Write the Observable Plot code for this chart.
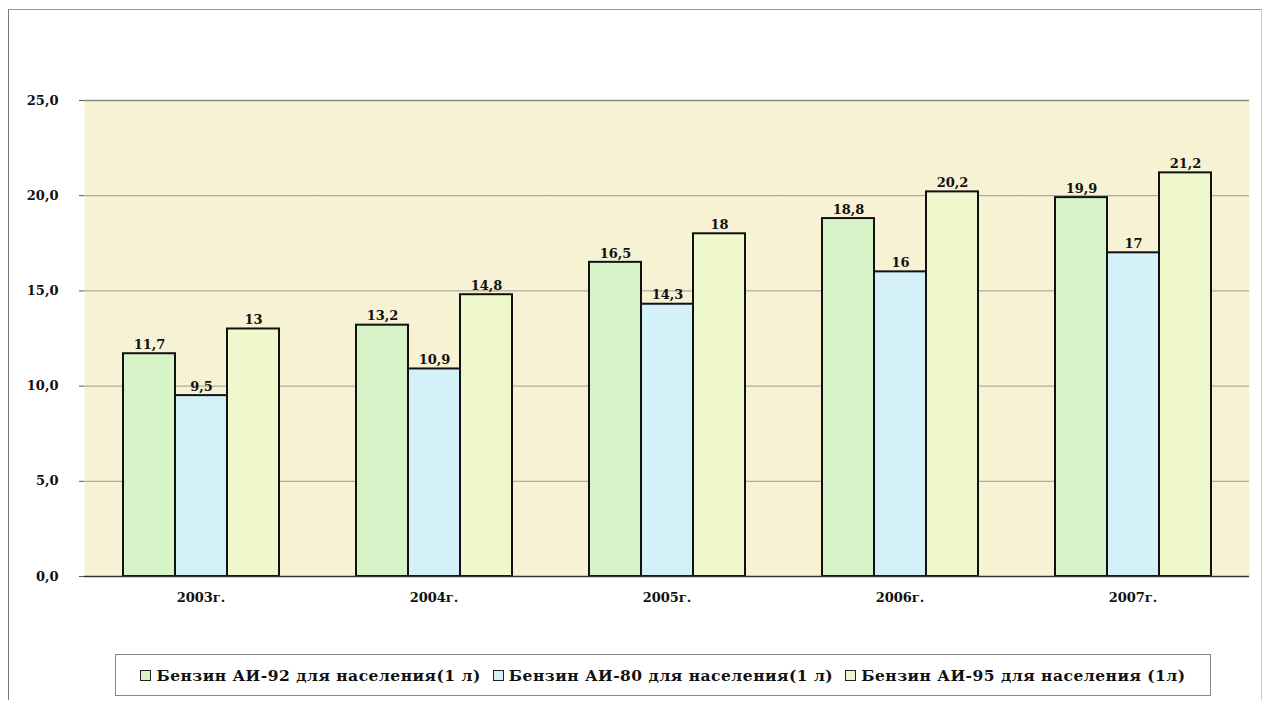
<!DOCTYPE html>
<html>
<head>
<meta charset="utf-8">
<script src="https://cdn.jsdelivr.net/npm/d3@7"></script>
<script src="https://cdn.jsdelivr.net/npm/@observablehq/plot@0.6"></script>
<style>
  body { margin: 0; background: #fff; font-family: "DejaVu Serif", serif; }
  #frame { position: absolute; left: 8px; top: 9px; width: 1252px; height: 690px; border-left: 1px solid #777; border-top: 1px solid #999; border-right: 1px solid #ccc; pointer-events: none; }
  #chart { position: absolute; left: 0; top: 0; }
  #legend { position: absolute; left: 115px; top: 654px; width: 1094px; height: 40px; border: 1px solid #888; background: #fff;
    display: flex; align-items: center; justify-content: center; gap: 12px; font: bold 15.5px "DejaVu Serif", serif; letter-spacing: 0.5px; color: #111; }
  #legend .it { display: flex; align-items: center; gap: 5px; white-space: nowrap; }
  #legend .sw { width: 9px; height: 9px; border: 1.5px solid #222; display: inline-block; }
</style>
</head>
<body>
<div id="frame"></div>
<div id="chart"></div>
<div id="legend"></div>
<script>
const years = ["2003", "2004", "2005", "2006", "2007"];
const seriesNames = [
  "Бензин АИ-92 для населения(1 л)",
  "Бензин АИ-80 для населения(1 л)",
  "Бензин АИ-95 для населения (1л)"
];
const ai92 = [11.7, 13.2, 16.5, 18.8, 19.9];
const ai80 = [9.5, 10.9, 14.3, 16, 17];
const ai95 = [13, 14.8, 18, 20.2, 21.2];
const seriesColors = ["#d7f4c8", "#d4f0f9", "#eff8cd"];
const yTicks = [0, 5, 10, 15, 20, 25];
const gridTicks = [5, 10, 15, 20];

const seriesValues = [ai92, ai80, ai95];
const data = [];
years.forEach((yr, i) => {
  seriesNames.forEach((s, j) => data.push({year: yr, series: s, value: seriesValues[j][i]}));
});
const fmt = v => String(v).replace(".", ",");

const chart = Plot.plot({
  width: 1264,
  height: 640,
  marginTop: 100,
  marginBottom: 64,
  marginLeft: 82,
  marginRight: 14,
  style: {fontFamily: "DejaVu Serif, serif", fontWeight: "bold", fontSize: "13px", color: "#111", background: "transparent"},
  fx: {domain: years, paddingInner: 0, paddingOuter: 0, label: null, axis: null},
  x: {domain: seriesNames, paddingInner: 0, paddingOuter: 0.72, axis: null},
  y: {domain: [0, 25], axis: null},
  color: {domain: seriesNames, range: seriesColors},
  marks: [
    Plot.frame({fill: "#f8f2d4", stroke: "none"}),
    Plot.ruleY(gridTicks, {stroke: "#9a9a90", strokeWidth: 1}),
    Plot.ruleY([25], {stroke: "#8a8a80", strokeWidth: 1.5}),
    Plot.barY(data, {fx: "year", x: "series", y: "value", fill: "series", stroke: "#111", strokeWidth: 2}),
    Plot.text(data, {fx: "year", x: "series", y: "value", text: d => fmt(d.value), dy: -9, fontSize: 13, fontWeight: "bold", fill: "#111"}),
    Plot.ruleY([0], {stroke: "#333", strokeWidth: 1.5}),
    Plot.axisY({anchor: "left", ticks: yTicks, tickFormat: d => d.toFixed(1).replace(".", ","), tickSize: 5, tickPadding: 21, line: true, label: null, fontSize: 13, stroke: "#555"}),
    Plot.axisY({anchor: "right", ticks: [], line: true, label: null, stroke: "#999"}),
    Plot.axisFx({anchor: "bottom", tickFormat: d => d + "г.", tickSize: 0, tickPadding: 16, label: null, fontSize: 13})
  ]
});
document.getElementById("chart").appendChild(chart);

const legend = document.getElementById("legend");
seriesNames.forEach((s, j) => {
  const it = document.createElement("span");
  it.className = "it";
  const sw = document.createElement("span");
  sw.className = "sw";
  sw.style.background = seriesColors[j];
  it.appendChild(sw);
  it.appendChild(document.createTextNode(s));
  legend.appendChild(it);
});
</script>
</body>
</html>
